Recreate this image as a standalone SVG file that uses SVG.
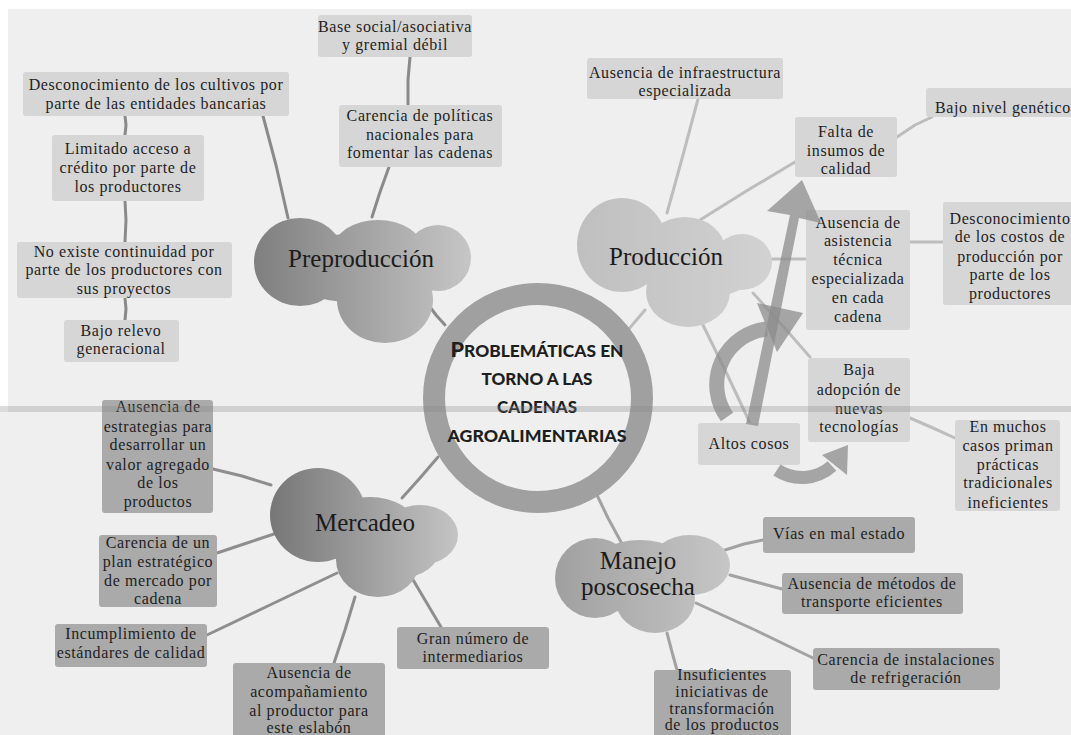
<svg xmlns="http://www.w3.org/2000/svg" width="1071" height="735" viewBox="0 0 1071 735">
<defs>
<style>
.t{font-family:"Liberation Serif","Times New Roman",serif;font-size:16px;letter-spacing:0.6px;text-anchor:middle;fill:#1e1e1e}
.bl{fill:#d6d6d6}
.bd{fill:#aaaaaa}
.cl{font-family:"Liberation Serif","Times New Roman",serif;font-size:25px;text-anchor:middle;fill:#1c1c1c}
.ln{fill:none;stroke-width:3;stroke-linecap:round;stroke-linejoin:round}
.k1{stroke:#8a8a8a}
.k2{stroke:#bdbdbd}
.k3{stroke:#8e8e8e}
.k4{stroke:#a2a2a2}
.ct{font-family:Lato,"Open Sans",sans-serif;font-weight:900;font-size:16px;fill:#1e1e1e;text-anchor:middle}
.ar{fill:#8c8c8c;opacity:0.75}
.arc{fill:none;stroke:#8c8c8c;opacity:0.75}
</style>
<linearGradient id="gPre" gradientUnits="userSpaceOnUse" x1="254" y1="0" x2="471" y2="0"><stop offset="0" stop-color="#7f7f7f"/><stop offset="1" stop-color="#c6c6c6"/></linearGradient>
<linearGradient id="gProd" gradientUnits="userSpaceOnUse" x1="577" y1="0" x2="772" y2="0"><stop offset="0" stop-color="#bfbfbf"/><stop offset="1" stop-color="#d2d2d2"/></linearGradient>
<linearGradient id="gMer" gradientUnits="userSpaceOnUse" x1="269" y1="0" x2="458" y2="0"><stop offset="0" stop-color="#767676"/><stop offset="1" stop-color="#c4c4c4"/></linearGradient>
<linearGradient id="gMan" gradientUnits="userSpaceOnUse" x1="555" y1="0" x2="730" y2="0"><stop offset="0" stop-color="#a0a0a0"/><stop offset="1" stop-color="#c6c6c6"/></linearGradient>
</defs>

<rect x="0" y="0" width="1071" height="735" fill="#ffffff"/>
<rect x="8" y="9" width="1063" height="726" fill="#efefef"/>
<rect x="0" y="412" width="8" height="323" fill="#efefef"/>

<g id="connectors">
<path class="ln k1" d="M125 116 L126 125 L125 135"/>
<path class="ln k1" d="M125 201 L126 220 L125 242"/>
<path class="ln k1" d="M125 298 L126 309 L125 320"/>
<path class="ln k1" d="M263 116 L276 165 L288 218"/>
<path class="ln k1" d="M410 57 L408 80 L408 105"/>
<path class="ln k1" d="M389 167 L380 192 L372 217"/>
<path class="ln k1" d="M427 303 L436 315 L445 325"/>
<path class="ln k2" d="M698 99 L683 155 L667 213"/>
<path class="ln k2" d="M700 220 L748 190 L795 162"/>
<path class="ln k2" d="M897 137 L915 125 L932 117"/>
<path class="ln k2" d="M772 259 L806 259"/>
<path class="ln k2" d="M910 242 L943 242"/>
<path class="ln k2" d="M753 293 L782 325 L810 357"/>
<path class="ln k2" d="M910 418 L933 428 L955 438"/>
<path class="ln k2" d="M702 323 L726 372 L750 423"/>
<path class="ln k2" d="M645 310 L628 330"/>
<path class="ln k3" d="M438 457 L420 478 L402 498"/>
<path class="ln k3" d="M271 485 L242 476 L213 469"/>
<path class="ln k3" d="M277 533 L247 543 L217 553"/>
<path class="ln k3" d="M337 573 L272 604 L207 635"/>
<path class="ln k3" d="M355 597 L345 630 L334 663"/>
<path class="ln k3" d="M409 573 L425 600 L441 627"/>
<path class="ln k4" d="M596 493 L608 518 L621 542"/>
<path class="ln k4" d="M725 550 L744 544 L763 540"/>
<path class="ln k4" d="M730 575 L756 582 L782 589"/>
<path class="ln k4" d="M696 603 L755 630 L813 658"/>
<path class="ln k4" d="M667 633 L672 652 L677 670"/>
</g>

<g id="preproduccion">
<g fill="url(#gPre)">
<ellipse cx="300" cy="262" rx="46" ry="44"/>
<ellipse cx="378" cy="250" rx="45" ry="30"/>
<ellipse cx="438" cy="258" rx="33" ry="33"/>
<ellipse cx="385" cy="300" rx="48" ry="43"/>
<ellipse cx="360" cy="268" rx="80" ry="35"/>
</g>
<text class="cl" x="361" y="267">Preproducción</text>
</g>

<g id="produccion">
<g fill="url(#gProd)">
<ellipse cx="622" cy="245" rx="45" ry="47"/>
<ellipse cx="685" cy="250" rx="40" ry="33"/>
<ellipse cx="742" cy="262" rx="30" ry="28"/>
<ellipse cx="715" cy="268" rx="40" ry="28"/>
<ellipse cx="688" cy="292" rx="42" ry="35"/>
</g>
<text class="cl" x="666" y="265">Producción</text>
</g>

<g id="mercadeo">
<g fill="url(#gMer)">
<ellipse cx="318" cy="515" rx="48" ry="47"/>
<ellipse cx="420" cy="535" rx="38" ry="30"/>
<ellipse cx="378" cy="560" rx="42" ry="37"/>
<ellipse cx="370" cy="525" rx="45" ry="28"/>
<ellipse cx="400" cy="548" rx="40" ry="30"/>
</g>
<text class="cl" x="365" y="531">Mercadeo</text>
</g>

<g id="manejo">
<g fill="url(#gMan)">
<ellipse cx="595" cy="578" rx="40" ry="40"/>
<ellipse cx="690" cy="565" rx="40" ry="30"/>
<ellipse cx="655" cy="598" rx="40" ry="35"/>
<ellipse cx="640" cy="570" rx="50" ry="30"/>
</g>
<text class="cl" x="638" y="569" font-size="21">Manejo</text>
<text class="cl" x="638" y="595" font-size="21">poscosecha</text>
</g>

<g id="centro">
<circle cx="538" cy="398" r="104" fill="none" stroke="#a0a0a0" stroke-width="22"/>
<text class="ct" x="537" y="357" textLength="173" lengthAdjust="spacingAndGlyphs"><tspan font-size="20">P</tspan>ROBLEMÁTICAS EN</text>
<text class="ct" x="537" y="385" textLength="111" lengthAdjust="spacingAndGlyphs">TORNO A LAS</text>
<text class="ct" x="537" y="413" textLength="80" lengthAdjust="spacingAndGlyphs">CADENAS</text>
<text class="ct" x="537" y="442" textLength="179" lengthAdjust="spacingAndGlyphs">AGROALIMENTARIAS</text>
</g>

<g id="n-desconocimiento-cultivos"><rect class="bl" x="23" y="72" width="266" height="44" rx="3"/>
<text class="t" x="156" y="90">Desconocimiento de los cultivos por</text>
<text class="t" x="156" y="109">parte de las entidades bancarias</text></g>

<g id="n-limitado"><rect class="bl" x="52" y="135" width="152" height="66" rx="3"/>
<text class="t" x="128" y="154">Limitado acceso a</text>
<text class="t" x="128" y="173">crédito por parte de</text>
<text class="t" x="128" y="192">los productores</text></g>

<g id="n-no-existe"><rect class="bl" x="17" y="242" width="215" height="56" rx="3"/>
<text class="t" x="124" y="257">No existe continuidad por</text>
<text class="t" x="124" y="275">parte de los productores con</text>
<text class="t" x="124" y="294">sus proyectos</text></g>

<g id="n-bajo-relevo"><rect class="bl" x="64" y="320" width="115" height="42" rx="3"/>
<text class="t" x="121" y="336">Bajo relevo</text>
<text class="t" x="121" y="354">generacional</text></g>

<g id="n-base-social"><rect class="bl" x="318" y="15" width="154" height="42" rx="3"/>
<text class="t" x="395" y="32">Base social/asociativa</text>
<text class="t" x="395" y="50">y gremial débil</text></g>

<g id="n-carencia-politicas"><rect class="bl" x="339" y="105" width="163" height="62" rx="3"/>
<text class="t" x="420" y="121">Carencia de políticas</text>
<text class="t" x="420" y="140">nacionales para</text>
<text class="t" x="420" y="158">fomentar las cadenas</text></g>

<g id="n-infraestructura"><rect class="bl" x="587" y="58" width="196" height="41" rx="3"/>
<text class="t" x="685" y="78">Ausencia de infraestructura</text>
<text class="t" x="685" y="96">especializada</text></g>

<g id="n-falta-insumos"><rect class="bl" x="795" y="117" width="102" height="60" rx="3"/>
<text class="t" x="846" y="137">Falta de</text>
<text class="t" x="846" y="156">insumos de</text>
<text class="t" x="846" y="174">calidad</text></g>

<g id="n-bajo-nivel"><rect class="bl" x="926" y="88" width="160" height="29" rx="3"/>
<text class="t" x="1003" y="113">Bajo nivel genético</text></g>

<g id="n-asistencia"><rect class="bl" x="806" y="210" width="104" height="120" rx="3"/>
<text class="t" x="858" y="228">Ausencia de</text>
<text class="t" x="858" y="246">asistencia</text>
<text class="t" x="858" y="265">técnica</text>
<text class="t" x="858" y="284">especializada</text>
<text class="t" x="858" y="303">en cada</text>
<text class="t" x="858" y="322">cadena</text></g>

<g id="n-costos"><rect class="bl" x="943" y="202" width="140" height="103" rx="3"/>
<text class="t" x="1010" y="224">Desconocimiento</text>
<text class="t" x="1010" y="242">de los costos de</text>
<text class="t" x="1010" y="262">producción por</text>
<text class="t" x="1010" y="280">parte de los</text>
<text class="t" x="1010" y="299">productores</text></g>

<g id="n-altos-cosos"><rect class="bl" x="698" y="423" width="102" height="42" rx="3"/>
<text class="t" x="749" y="449">Altos cosos</text></g>

<g id="n-baja-adopcion"><rect class="bl" x="808" y="358" width="102" height="84" rx="3"/>
<text class="t" x="859" y="375">Baja</text>
<text class="t" x="859" y="395">adopción de</text>
<text class="t" x="859" y="414">nuevas</text>
<text class="t" x="859" y="432">tecnologías</text></g>

<g id="n-en-muchos"><rect class="bl" x="955" y="420" width="105" height="91" rx="3"/>
<text class="t" x="1008" y="432">En muchos</text>
<text class="t" x="1008" y="451">casos priman</text>
<text class="t" x="1008" y="470">prácticas</text>
<text class="t" x="1008" y="488">tradicionales</text>
<text class="t" x="1008" y="508">ineficientes</text></g>

<g id="n-estrategias"><rect class="bd" x="102" y="400" width="111" height="113" rx="3"/>
<text class="t" x="158" y="412">Ausencia de</text>
<text class="t" x="158" y="432">estrategias para</text>
<text class="t" x="158" y="450">desarrollar un</text>
<text class="t" x="158" y="470">valor agregado</text>
<text class="t" x="158" y="488">de los</text>
<text class="t" x="158" y="507">productos</text></g>

<g id="n-plan"><rect class="bd" x="99" y="535" width="118" height="72" rx="3"/>
<text class="t" x="158" y="548">Carencia de un</text>
<text class="t" x="158" y="567">plan estratégico</text>
<text class="t" x="158" y="586">de mercado por</text>
<text class="t" x="158" y="604">cadena</text></g>

<g id="n-incumplimiento"><rect class="bd" x="55" y="624" width="152" height="43" rx="3"/>
<text class="t" x="131" y="639">Incumplimiento de</text>
<text class="t" x="131" y="658">estándares de calidad</text></g>

<g id="n-acompanamiento"><rect class="bd" x="233" y="663" width="152" height="80" rx="3"/>
<text class="t" x="309" y="678">Ausencia de</text>
<text class="t" x="309" y="697">acompañamiento</text>
<text class="t" x="309" y="716">al productor para</text>
<text class="t" x="309" y="733">este eslabón</text></g>

<g id="n-intermediarios"><rect class="bd" x="397" y="627" width="152" height="42" rx="3"/>
<text class="t" x="473" y="644">Gran número de</text>
<text class="t" x="473" y="662">intermediarios</text></g>

<g id="n-vias"><rect class="bd" x="763" y="517" width="152" height="36" rx="3"/>
<text class="t" x="839" y="539">Vías en mal estado</text></g>

<g id="n-transporte"><rect class="bd" x="782" y="573" width="181" height="41" rx="3"/>
<text class="t" x="872" y="589">Ausencia de métodos de</text>
<text class="t" x="872" y="607">transporte eficientes</text></g>

<g id="n-refrigeracion"><rect class="bd" x="813" y="648" width="187" height="42" rx="3"/>
<text class="t" x="906" y="665">Carencia de instalaciones</text>
<text class="t" x="906" y="683">de refrigeración</text></g>

<g id="n-insuficientes"><rect class="bd" x="654" y="670" width="137" height="73" rx="3"/>
<text class="t" x="722" y="680">Insuficientes</text>
<text class="t" x="722" y="697">iniciativas de</text>
<text class="t" x="722" y="714">transformación</text>
<text class="t" x="722" y="730">de los productos</text></g>

<g id="flechas">
<path class="ar" d="M746 424 L790 215 L767 211 L802 180 L821 223 L799 218 L758 426 Z"/>
<path class="arc" stroke-width="15" d="M727 417 A56 56 0 0 1 767 329"/>
<polygon class="ar" points="757,303 803,313 777,352"/>
<path class="arc" stroke-width="13" d="M777 470 A45 45 0 0 0 832 466"/>
<polygon class="ar" points="822,455 848,445 847,475"/>
</g>

<rect x="0" y="406" width="1071" height="6" fill="#888888" opacity="0.3"/>
</svg>
